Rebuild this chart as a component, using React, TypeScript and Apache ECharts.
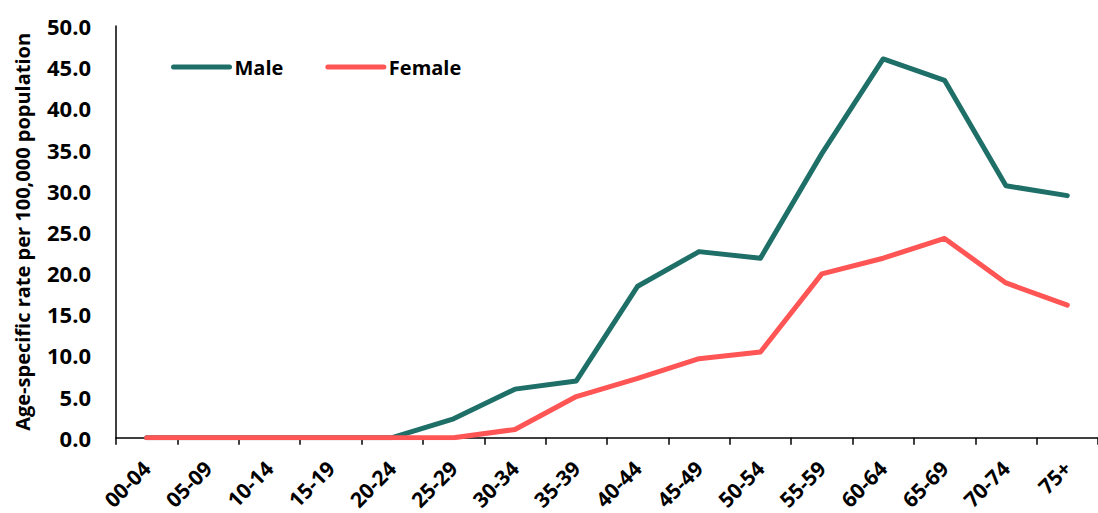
import React, { useEffect, useRef } from "react";
import * as echarts from "echarts";

const categories = ["00-04","05-09","10-14","15-19","20-24","25-29","30-34","35-39","40-44","45-49","50-54","55-59","60-64","65-69","70-74","75+"];
const maleValues = [0, 0, 0, 0, 0, 2.3, 5.9, 6.9, 18.4, 22.6, 21.8, 34.5, 46.0, 43.4, 30.6, 29.4];
const femaleValues = [0, 0, 0, 0, 0, 0, 1.0, 5.0, 7.2, 9.6, 10.4, 19.9, 21.8, 24.2, 18.8, 16.1];
const yAxisTitle = "Age-specific rate per 100,000 population";

const FONT = "'Open Sans', sans-serif";

export default function App() {
  const ref = useRef<HTMLDivElement>(null);
  useEffect(() => {
    if (!ref.current) return;
    const chart = echarts.init(ref.current, undefined, { renderer: "svg" });
    chart.setOption({
      animation: false,
      grid: { left: 116, top: 26, bottom: 75, right: -7, containLabel: false },
      legend: {
        left: 166,
        top: 52,
        itemWidth: 56,
        itemHeight: 14,
        itemGap: 42,
        itemStyle: { opacity: 0 },
        lineStyle: { width: 5, cap: "round" },
        textStyle: { fontFamily: FONT, fontWeight: "bold", fontSize: 20, color: "#000", padding: [0, 0, 0, 0] },
        data: ["Male", "Female"],
      },
      xAxis: {
        type: "category",
        data: categories,
        boundaryGap: true,
        axisLine: { lineStyle: { color: "#000", width: 1.5 } },
        axisTick: { show: true, length: 7, lineStyle: { color: "#000", width: 1.5 } },
        axisLabel: {
          rotate: 45,
          interval: 0,
          margin: 27,
          fontFamily: FONT,
          fontWeight: "bold",
          fontSize: 21,
          color: "#000",
        },
        splitLine: { show: false },
      },
      yAxis: {
        type: "value",
        min: 0,
        max: 50,
        interval: 5,
        name: yAxisTitle,
        nameLocation: "middle",
        nameGap: 84,
        nameTextStyle: { fontFamily: FONT, fontWeight: "bold", fontSize: 20, color: "#000" },
        axisLine: { show: true, lineStyle: { color: "#000", width: 1.5 } },
        axisTick: { show: false },
        splitLine: { show: false },
        axisLabel: {
          margin: 25,
          fontFamily: FONT,
          fontWeight: "bold",
          fontSize: 22,
          color: "#000",
          formatter: (v: number) => v.toFixed(1),
        },
      },
      series: [
        {
          name: "Male",
          type: "line",
          data: maleValues,
          symbol: "none",
          color: "#1E6F68",
          lineStyle: { width: 5, color: "#1E6F68", cap: "round", join: "round" },
          z: 2,
        },
        {
          name: "Female",
          type: "line",
          data: femaleValues,
          symbol: "none",
          color: "#FF5555",
          lineStyle: { width: 5, color: "#FF5555", cap: "round", join: "round" },
          z: 3,
        },
      ],
    });
    return () => chart.dispose();
  }, []);
  return <div ref={ref} style={{ width: 1098, height: 513, position: "absolute", left: 0, top: 0 }} />;
}
